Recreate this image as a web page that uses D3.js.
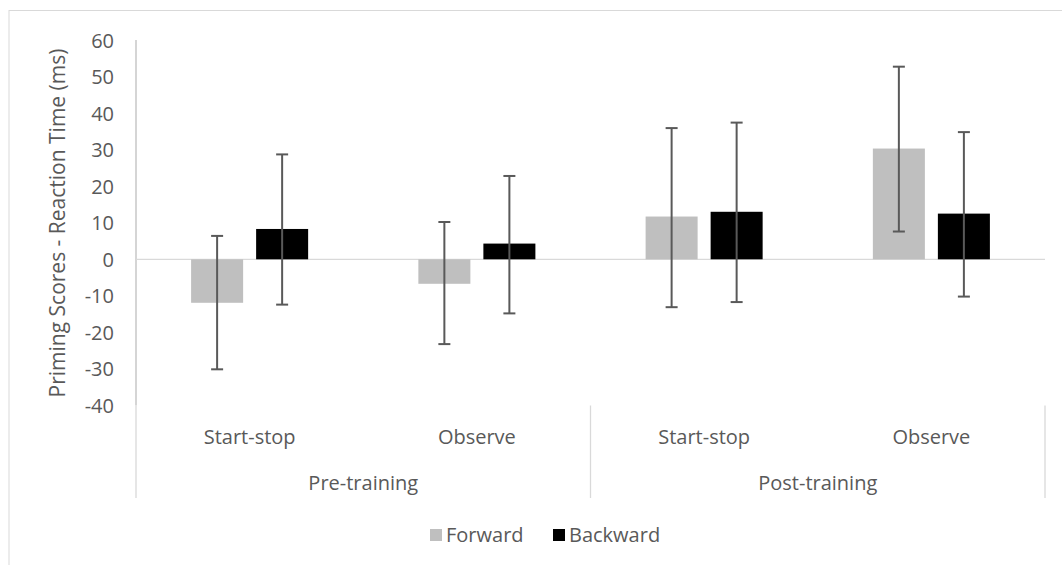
<!DOCTYPE html>
<html>
<head>
<meta charset="utf-8">
<script src="https://cdn.jsdelivr.net/npm/d3@7"></script>
<style>
  html, body { margin: 0; padding: 0; background: #fff; }
  svg { display: block; }
  text { font-family: "Open Sans", "Noto Sans", sans-serif; fill: #595959; }
</style>
</head>
<body>
<svg id="chart" width="1062" height="565"></svg>
<script>
// ---- data ----
const groups = ["Pre-training", "Post-training"];
const conditions = ["Start-stop", "Observe"];
const series = ["Forward", "Backward"];
const forwardValues = [-11.9, -6.7, 11.7, 30.3];
const backwardValues = [8.3, 4.3, 13.0, 12.5];
const forwardErrHigh = [6.4, 10.2, 35.9, 52.7];
const forwardErrLow = [-30.1, -23.2, -13.1, 7.6];
const backwardErrHigh = [28.7, 22.8, 37.4, 34.8];
const backwardErrLow = [-12.4, -14.8, -11.7, -10.2];
const yTicks = [-40, -30, -20, -10, 0, 10, 20, 30, 40, 50, 60];
const seriesColors = ["#bfbfbf", "#000000"];

const categories = [];
groups.forEach(g => conditions.forEach(c => categories.push({ group: g, cond: c, key: g + "|" + c })));

const svg = d3.select("#chart");
const W = 1062, H = 565;

// outer chart border
svg.append("rect").attr("x", 9).attr("y", 10.5).attr("width", W + 10).attr("height", H + 10)
  .attr("fill", "#fff").attr("stroke", "#d9d9d9").attr("stroke-width", 1);

const plot = { left: 136, right: 1045, top: 40, bottom: 405.5 };

const y = d3.scaleLinear().domain([-40, 60]).range([plot.bottom, plot.top]);
const x0 = d3.scaleBand().domain(categories.map(d => d.key))
  .range([plot.left, plot.right]).paddingInner(0.485).paddingOuter(0.2425);
const x1 = d3.scaleBand().domain(series).range([0, x0.bandwidth()]).paddingInner(0.2).paddingOuter(0);

// y axis
const yAxis = d3.axisLeft(y).tickValues(yTicks).tickSize(0).tickPadding(0)
  .tickFormat(d => (d < 0 ? "-" + Math.abs(d) : String(d)));
const yg = svg.append("g").attr("transform", `translate(${plot.left - 22},0)`).call(yAxis);
yg.select(".domain").remove();
yg.selectAll("text").attr("font-size", 20).style("fill", "#595959")
  .attr("font-family", "'Open Sans', sans-serif").attr("dy", "0.35em");

// left axis line
svg.append("line").attr("x1", plot.left).attr("x2", plot.left)
  .attr("y1", y(60)).attr("y2", plot.bottom)
  .attr("stroke", "#bfbfbf").attr("stroke-width", 1.3);

// category dividers (group separators)
const catBottom = 498;
const groupEdges = [plot.left, (plot.left + plot.right) / 2, plot.right];
svg.selectAll("line.div").data(groupEdges).enter().append("line")
  .attr("x1", d => d).attr("x2", d => d)
  .attr("y1", plot.bottom).attr("y2", catBottom)
  .attr("stroke", "#d9d9d9").attr("stroke-width", 1.3);

// zero line
svg.append("line").attr("x1", plot.left).attr("x2", plot.right)
  .attr("y1", y(0)).attr("y2", y(0))
  .attr("stroke", "#d9d9d9").attr("stroke-width", 1.3);

// bars
const seriesData = [
  { name: "Forward", vals: forwardValues, hi: forwardErrHigh, lo: forwardErrLow, color: seriesColors[0] },
  { name: "Backward", vals: backwardValues, hi: backwardErrHigh, lo: backwardErrLow, color: seriesColors[1] }
];

seriesData.forEach(s => {
  const g = svg.append("g");
  categories.forEach((c, i) => {
    const v = s.vals[i];
    g.append("rect")
      .attr("x", x0(c.key) + x1(s.name))
      .attr("width", x1.bandwidth())
      .attr("y", y(Math.max(0, v)))
      .attr("height", Math.abs(y(v) - y(0)))
      .attr("fill", s.color);
  });
});

// error bars
seriesData.forEach(s => {
  categories.forEach((c, i) => {
    const cx = x0(c.key) + x1(s.name) + x1.bandwidth() / 2;
    const g = svg.append("g").attr("stroke", "#595959").attr("stroke-width", 2);
    g.append("line").attr("x1", cx).attr("x2", cx).attr("y1", y(s.hi[i])).attr("y2", y(s.lo[i]));
    g.append("line").attr("x1", cx - 6).attr("x2", cx + 6).attr("y1", y(s.hi[i])).attr("y2", y(s.hi[i]));
    g.append("line").attr("x1", cx - 6).attr("x2", cx + 6).attr("y1", y(s.lo[i])).attr("y2", y(s.lo[i]));
  });
});

// category labels
svg.selectAll("text.cond").data(categories).enter().append("text")
  .attr("x", d => x0(d.key) + x0.bandwidth() / 2)
  .attr("y", 437).attr("dy", "0.35em")
  .attr("text-anchor", "middle").attr("font-size", 20)
  .text(d => d.cond);

// group labels
svg.selectAll("text.grp").data(groups).enter().append("text")
  .attr("x", (d, i) => (groupEdges[i] + groupEdges[i + 1]) / 2)
  .attr("y", 483).attr("dy", "0.35em")
  .attr("text-anchor", "middle").attr("font-size", 20)
  .text(d => d);

// axis title
svg.append("text")
  .attr("transform", `translate(58,223) rotate(-90)`)
  .attr("text-anchor", "middle").attr("dy", "0.35em").attr("font-size", 21)
  .text("Priming Scores - Reaction Time (ms)");

// legend
const legend = svg.append("g");
const legendItems = [{ name: series[0], color: seriesColors[0], x: 430 }, { name: series[1], color: seriesColors[1], x: 553 }];
legendItems.forEach(it => {
  legend.append("rect").attr("x", it.x).attr("y", 529).attr("width", 12).attr("height", 12).attr("fill", it.color);
  legend.append("text").attr("x", it.x + 16).attr("y", 535).attr("dy", "0.35em")
    .attr("font-size", 20).text(it.name);
});
</script>
</body>
</html>
